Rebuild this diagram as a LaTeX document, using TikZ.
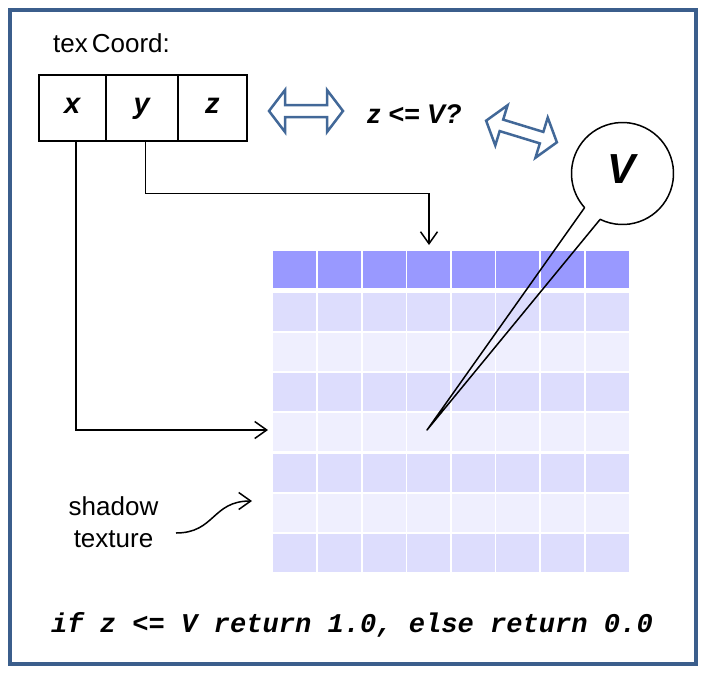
\documentclass[tikz,border=0pt]{standalone}
\usepackage{fontspec}
\setmainfont{Liberation Sans}
\newfontfamily\codefont{Liberation Mono}
\usetikzlibrary{arrows.meta}
\definecolor{frameblue}{RGB}{59,94,140}
\definecolor{arrowblue}{RGB}{66,104,152}
\definecolor{toprow}{RGB}{153,153,255}
\definecolor{darkrow}{RGB}{221,221,253}
\definecolor{lightrow}{RGB}{239,239,254}
\tikzset{
  cellbox/.style={draw, line width=2pt, inner sep=0pt, minimum height=66pt,
    text height=10.6pt, text depth=0pt,
    font=\fontsize{29}{29}\selectfont\bfseries\itshape},
  conn/.style={line width=1.5pt, -{Straight Barb[length=12pt,width=17pt,line width=1.5pt]}},
  plain/.style={inner sep=0pt, font=\fontsize{26}{32}\selectfont},
  boldit/.style={inner sep=0pt, font=\fontsize{27}{27}\selectfont\bfseries\itshape},
  dblarrow/.pic={\draw[arrowblue, line width=2.5pt, line join=miter, fill=white]
    (-37,0) -- (-21,21) -- (-21,6) -- (21,6) -- (21,21) -- (37,0)
    -- (21,-21) -- (21,-6) -- (-21,-6) -- (-21,-21) -- cycle;}
}
\begin{document}
\begin{tikzpicture}[x=1pt,y=1pt]
\useasboundingbox (0,0) rectangle (708,-675);
\fill[white] (0,0) rectangle (708,-675);
% frame
\draw[frameblue, line width=4pt] (10,-10) rectangle (695.5,-664);

% shadow texture grid
\foreach \c in {0,...,7} {
  \fill[toprow] (273.3+\c*44.6,-251) rectangle ++(43,-37);
  \foreach \r in {1,3,5,7} {
    \fill[darkrow] (273.3+\c*44.6,-293.3-\r*40.05+40.05) rectangle ++(43,-38);
  }
  \foreach \r in {2,4,6} {
    \fill[lightrow] (273.3+\c*44.6,-293.3-\r*40.05+40.05) rectangle ++(43,-38);
  }
}

% texCoord
\node[plain, anchor=base west] (tc) at (53,-52) {tex\kern4pt Coord:};
\node[cellbox, minimum width=67pt] (cx) at (72.2,-107.7) {x};
\node[cellbox, minimum width=72pt] (cy) at (141.7,-107.7) {y};
\node[cellbox, minimum width=69.3pt] (cz) at (212.35,-107.7) {z};

% connectors to texture
\coordinate (xt) at (268,-430);
\coordinate (yt) at (429,-245);
\draw[conn] ([xshift=4pt]cx.south) |- (xt);
\draw[conn] ([xshift=4pt]cy.south) -- ++(0,-52) -| (yt);

% comparison
\pic at (306,-111) {dblarrow};
\node[boldit, anchor=base west] (cond) at (367,-123) {z <= V?};
\pic[rotate=-17] at (521.5,-131.5) {dblarrow};

% V callout
\node[circle, minimum size=102pt, inner sep=0pt, outer sep=0pt] (vc) at (622.5,-173.5) {};
\node[inner sep=0pt, anchor=base, font=\fontsize{42}{42}\selectfont\bfseries\itshape] (vl) at (621,-183) {V};
\coordinate (vtip) at (427,-430);
\draw[line width=1.5pt, line join=round] (vtip) -- (vc.244) arc[start angle=244, end angle=582, radius=51pt] -- cycle;

% shadow texture label
\node[plain, align=center] (sh) at (113.5,-522) {shadow\\texture};
\coordinate (shs) at (176,-533);
\coordinate (she) at (252,-501);
\draw[conn] (shs) .. controls (215,-533) and (212,-501) .. (she);

% bottom code
\node[inner sep=0pt, anchor=base, font=\fontsize{27.1}{27.1}\selectfont\codefont\bfseries\itshape] (code) at (352,-632) {if z <= V return 1.0, else return 0.0};
\end{tikzpicture}
\end{document}
